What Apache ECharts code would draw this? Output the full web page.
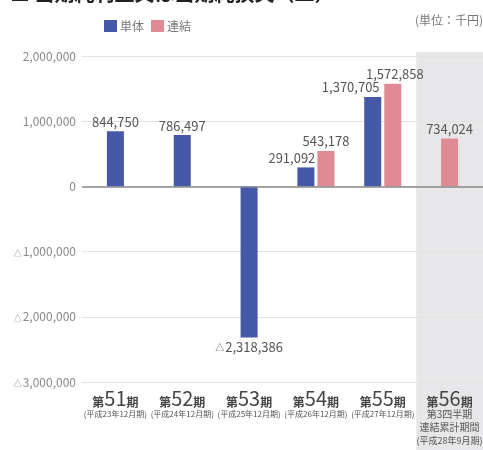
<!DOCTYPE html>
<html>
<head>
<meta charset="utf-8">
<script src="https://cdn.jsdelivr.net/npm/echarts@6/dist/echarts.min.js"></script>
<style>
  html, body { margin: 0; padding: 0; background: #fff; overflow: hidden; }
  #chart { width: 483px; height: 450px; }
</style>
</head>
<body>
<div id="chart"></div>
<script>
// 期ごとの値 (単位: 千円)
const terms = ["51", "52", "53", "54", "55", "56"];
const termNotes = [
    ["(平成23年12月期)"],
    ["(平成24年12月期)"],
    ["(平成25年12月期)"],
    ["(平成26年12月期)"],
    ["(平成27年12月期)"],
    ["第3四半期", "連結累計期間", "(平成28年9月期)"]
];
const tantai = [844750, 786497, -2318386, 291092, 1370705, null];
const renketsu = [null, null, null, 543178, 1572858, 734024];
const yTicks = [-3000000, -2000000, -1000000, 0, 1000000, 2000000];

const BLUE = "#4658a8";
const PINK = "#e08a93";
const FONT = "'Noto Sans CJK JP', 'Noto Sans', sans-serif";

const categories = terms.map(t => "第" + t + "期");

// label nudges so the pair labels don't collide
const labelOffset = { "291092": [-14, 0], "1370705": [-22, 0], "1572858": [2, 0] };

// negative numbers use a small triangle in rich text
const fmt = v => {
    const s = Math.abs(v).toLocaleString("en-US");
    return v < 0 ? "{t|△}" + s : s;
};

const barLabel = {
    show: true,
    fontSize: 13,
    color: "#555",
    fontFamily: FONT,
    distance: 3,
    formatter: p => fmt(p.value),
    rich: { t: { fontSize: 9, color: "#555", fontFamily: FONT, padding: [2, 1, 0, 0] } }
};

const paired = tantai.map((v, i) => v != null && renketsu[i] != null);

const item = (v, color) => {
    if (v == null) return null;
    return {
        value: v,
        itemStyle: color ? { color: color } : undefined,
        label: {
            position: v < 0 ? "bottom" : "top",
            offset: labelOffset[String(v)] || [0, 0]
        }
    };
};

const singles = tantai.map((v, i) => {
    if (paired[i]) return null;
    if (v != null) return item(v, BLUE);
    return item(renketsu[i], PINK);
});

const chart = echarts.init(document.getElementById("chart"), null, { renderer: "canvas", width: 483, height: 450 });

const option = {
    animation: false,
    backgroundColor: "#fff",
    textStyle: { fontFamily: FONT },
    legend: {
        data: ["単体", "連結"],
        left: 99,
        top: 15,
        itemWidth: 13,
        itemHeight: 12,
        itemGap: 7,
        icon: "rect",
        textStyle: { color: "#777", fontSize: 12, fontFamily: FONT, padding: [0, 0, 0, -2] }
    },
    grid: { left: 82, right: 0, top: 56, bottom: 68, containLabel: false, outerBoundsMode: "none" },
    xAxis: [
        {
            type: "category",
            data: categories,
            axisLine: { show: false, onZero: false },
            axisTick: { show: false },
            axisLabel: {
                interval: 0,
                margin: 6,
                verticalAlign: "top",
                lineHeight: 12,
                hideOverlap: false,
                formatter: (val, idx) => {
                    const notes = termNotes[idx];
                    const big = "{a|第}{b|" + terms[idx] + "}{a|期}";
                    const lines = notes.map((n, j) => {
                        let style = "s";
                        if (notes.length > 1) style = j === notes.length - 1 ? "p" : "m";
                        return "{" + style + "|" + n + "}";
                    });
                    return [big].concat(lines).join("\n");
                },
                rich: {
                    a: { fontSize: 12, color: "#444", fontWeight: "bold", fontFamily: FONT, verticalAlign: "bottom", lineHeight: 20 },
                    b: { fontSize: 20, color: "#444", fontFamily: FONT, lineHeight: 20 },
                    s: { fontSize: 8, color: "#555", fontFamily: FONT, lineHeight: 12 },
                    m: { fontSize: 10, color: "#555", fontFamily: FONT, lineHeight: 13 },
                    p: { fontSize: 9, color: "#555", fontFamily: FONT, lineHeight: 13 }
                }
            }
        },
        {
            type: "category",
            data: categories,
            show: false
        }
    ],
    yAxis: {
        type: "value",
        min: -3000000,
        max: 2000000,
        interval: 1000000,
        axisLine: { show: false },
        axisTick: { show: false },
        splitLine: { lineStyle: { color: "#e2e2e2", width: 1 } },
        axisLabel: {
            margin: 6,
            color: "#888",
            fontSize: 12,
            fontFamily: FONT,
            formatter: v => yTicks.indexOf(v) >= 0 ? fmt(v) : "",
            rich: { t: { fontSize: 8, color: "#888", fontFamily: FONT, padding: [2, 1, 0, 0] } }
        }
    },
    series: [
        {
            name: "単体",
            type: "bar",
            xAxisIndex: 0,
            barWidth: 17,
            barGap: "18%",
            itemStyle: { color: BLUE },
            label: barLabel,
            data: tantai.map((v, i) => paired[i] ? item(v) : null),
            markLine: {
                silent: true,
                symbol: "none",
                label: { show: false },
                lineStyle: { color: "#8a8a8a", width: 1.5, type: "solid" },
                data: [{ yAxis: 0 }]
            },
            z: 3
        },
        {
            name: "連結",
            type: "bar",
            xAxisIndex: 0,
            barWidth: 17,
            barGap: "18%",
            itemStyle: { color: PINK },
            label: barLabel,
            data: renketsu.map((v, i) => paired[i] ? item(v) : null),
            z: 3
        },
        {
            name: "single",
            type: "bar",
            xAxisIndex: 1,
            barWidth: 17,
            label: barLabel,
            data: singles,
            z: 3
        }
    ],
    graphic: [
        {
            id: "title",
            type: "text",
            left: 10,
            top: -17,
            z: 10,
            style: {
                text: "■ 当期純利益又は当期純損失（△）",
                fontSize: 20,
                fontWeight: "bold",
                fill: "#222",
                fontFamily: FONT
            }
        },
        {
            id: "unit",
            type: "text",
            right: 0,
            top: 14,
            z: 10,
            style: {
                text: "(単位：千円)",
                fontSize: 12,
                fill: "#777",
                fontFamily: FONT
            }
        }
    ]
};

chart.setOption(option);

// gray band behind the latest (quarterly) term, from its category boundaries
const last = categories.length - 1;
const cx = chart.convertToPixel({ xAxisIndex: 0 }, categories[last]);
const cPrev = chart.convertToPixel({ xAxisIndex: 0 }, categories[last - 1]);
const half = (cx - cPrev) / 2;
const topY = chart.convertToPixel({ yAxisIndex: 0 }, 2000000);
chart.setOption({
    graphic: [
        {
            id: "band",
            type: "rect",
            z: -10,
            silent: true,
            shape: { x: cx - half, y: topY - 4, width: half * 2 + 2, height: 450 - topY + 4 },
            style: { fill: "#e7e7e9" }
        }
    ]
});
</script>
</body>
</html>
